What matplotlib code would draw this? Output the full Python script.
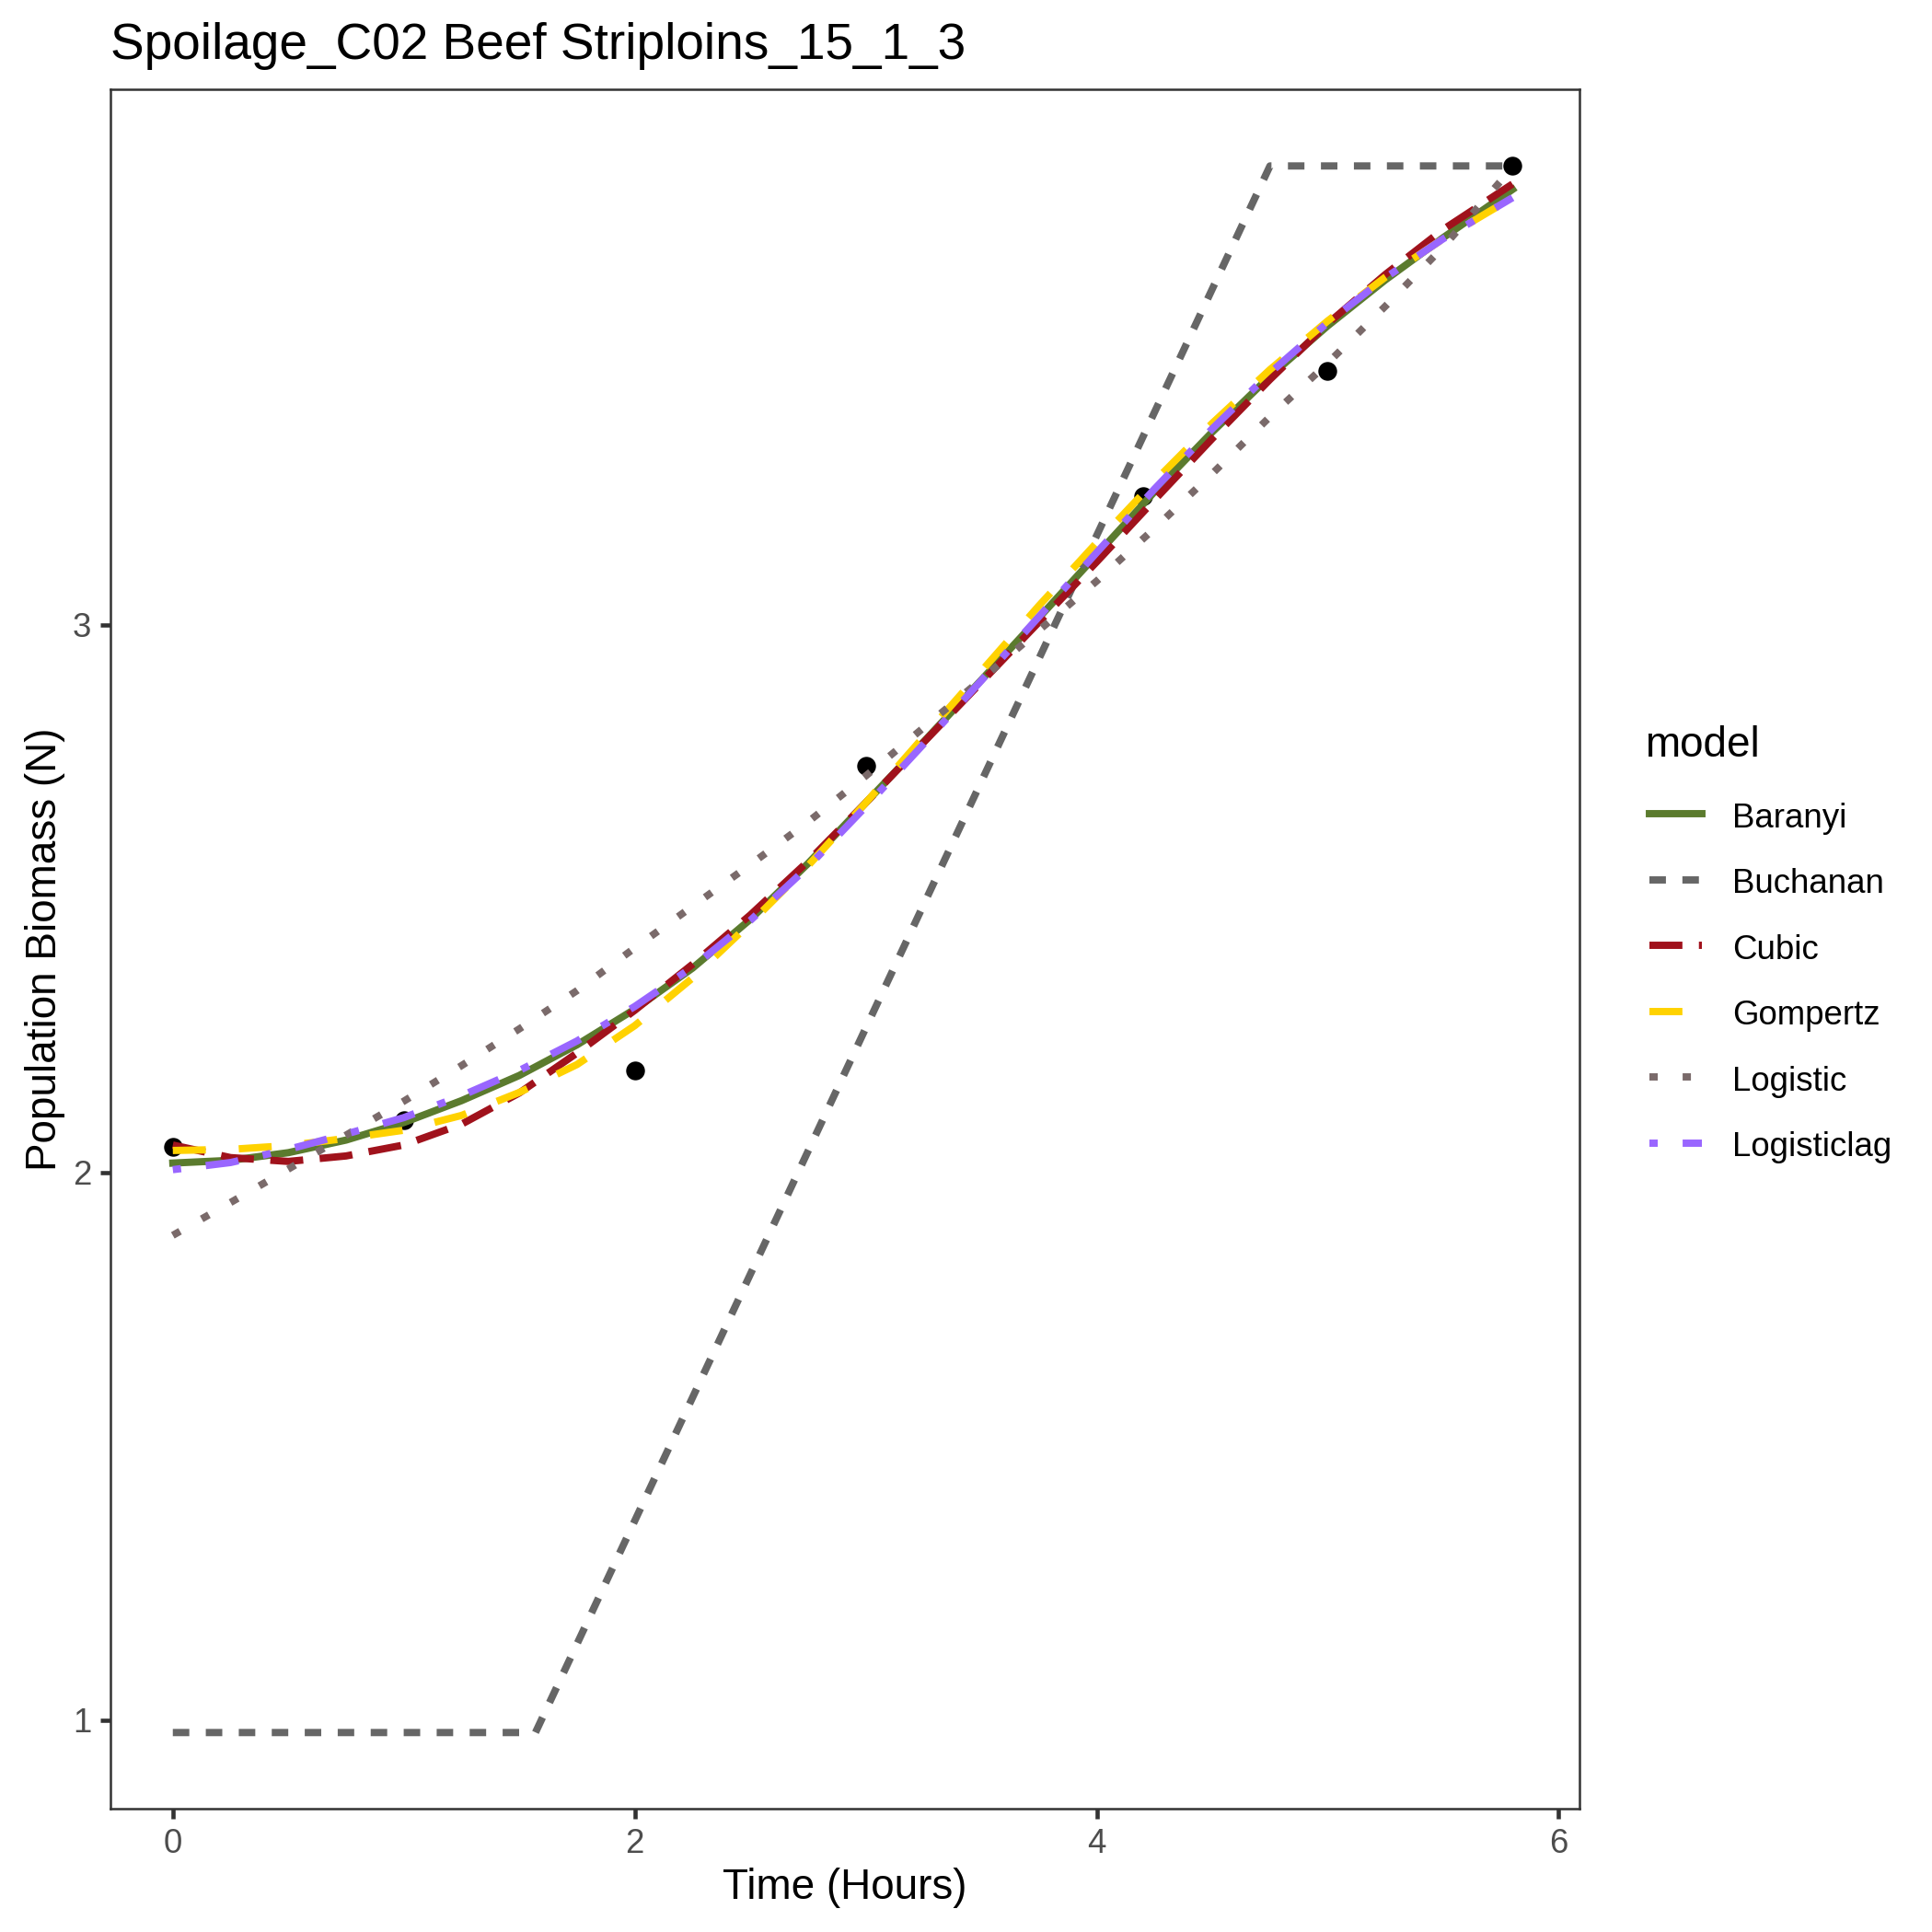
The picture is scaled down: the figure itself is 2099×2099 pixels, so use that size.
import matplotlib
matplotlib.use("Agg")
import matplotlib.pyplot as plt

# observed points
obs_time = [0, 1, 2, 3, 4.2, 5, 5.8]
obs_biomass = [2.046, 2.096, 2.186, 2.743, 3.235, 3.464, 3.838]

# fitted model curves
fit_time = [0, 0.25, 0.5, 0.75, 1.0, 1.25, 1.5, 1.75, 2.0, 2.25, 2.5, 2.75,
            3.0, 3.25, 3.5, 3.75, 4.0, 4.25, 4.5, 4.75, 5.0, 5.25, 5.5, 5.8]
baranyi = [2.017, 2.022, 2.036, 2.059, 2.091, 2.131, 2.177, 2.233, 2.298, 2.373, 2.462, 2.564,
           2.675, 2.786, 2.899, 3.013, 3.128, 3.243, 3.352, 3.454, 3.546, 3.630, 3.707, 3.795]
cubic = [2.050, 2.027, 2.020, 2.030, 2.050, 2.088, 2.145, 2.218, 2.296, 2.380, 2.470, 2.568,
         2.675, 2.785, 2.895, 3.005, 3.115, 3.228, 3.340, 3.448, 3.550, 3.640, 3.722, 3.805]
gompertz = [2.040, 2.042, 2.049, 2.062, 2.077, 2.104, 2.146, 2.197, 2.268, 2.355, 2.455, 2.560,
            2.675, 2.795, 2.915, 3.035, 3.150, 3.262, 3.368, 3.466, 3.555, 3.635, 3.705, 3.780]
logistic = [1.885, 1.945, 2.006, 2.068, 2.130, 2.195, 2.262, 2.332, 2.410, 2.486, 2.562, 2.640,
            2.724, 2.812, 2.900, 2.990, 3.080, 3.176, 3.276, 3.380, 3.478, 3.582, 3.690, 3.835]
logisticlag = [2.005, 2.018, 2.042, 2.070, 2.100, 2.140, 2.186, 2.240, 2.303, 2.375, 2.460, 2.558,
               2.668, 2.782, 2.898, 3.015, 3.132, 3.248, 3.358, 3.460, 3.552, 3.634, 3.705, 3.780]

# Buchanan is piecewise linear: lag, growth, stationary
buchanan_time = [0, 1.57, 4.75, 5.8]
buchanan = [0.977, 0.977, 3.838, 3.838]

models = ["Baranyi", "Buchanan", "Cubic", "Gompertz", "Logistic", "Logisticlag"]
colours = ["#5B7B2E", "#666666", "#A0121C", "#FFD200", "#7A6A6A", "#9966FF"]
# dash patterns in points (lw ~ 1.9pt)
dashes = [None, (4.3, 4.3), (8.6, 4.3), (8.6, 8.6), (2.16, 6.5), (2.16, 6.5, 8.6, 6.5)]

plt.rcParams['font.family'] = ['Liberation Sans', 'DejaVu Sans']
plt.rcParams['lines.scale_dashes'] = False

W = 2099
fig = plt.figure(figsize=(W / 300, W / 300), dpi=300)
ax = fig.add_axes([120 / W, 1 - 1965 / W, (1716 - 120) / W, (1965 - 97) / W])

ax.scatter(obs_time, obs_biomass, s=24, color="black", zorder=2, linewidths=0)

curves = [(fit_time, baranyi), (buchanan_time, buchanan), (fit_time, cubic),
          (fit_time, gompertz), (fit_time, logistic), (fit_time, logisticlag)]
handles = []
for (t, v), name, col, d in zip(curves, models, colours, dashes):
    line, = ax.plot(t, v, color=col, lw=1.9, label=name, zorder=3,
                    solid_joinstyle="round", dash_joinstyle="round")
    if d is not None:
        line.set_dashes(d)
    handles.append(line)

ax.set_xlim(-0.27, 6.09)
ax.set_ylim(0.838, 3.978)
ax.set_xticks([0, 2, 4, 6])
ax.set_yticks([1, 2, 3])
ax.tick_params(colors="#333333", labelcolor="#4D4D4D", labelsize=8.8,
               length=2.75, width=1.1, pad=2.2)
for sp in ax.spines.values():
    sp.set_color("#333333")
    sp.set_linewidth(0.6)

ax.set_xlabel("Time (Hours)", fontsize=11, labelpad=2)
ax.set_ylabel("Population Biomass (N)", fontsize=11, labelpad=2)
ax.set_title("Spoilage_C02 Beef Striploins_15_1_3", fontsize=13.2, loc="left", pad=8)

# legend: title placed on its own so the gap above the keys can match
fig.text(1787 / W, 1 - 822 / W, "model", fontsize=11, ha="left", va="baseline")
leg = fig.legend(handles=handles, labels=models,
                 loc="upper left", bbox_to_anchor=(1792 / W, 1 - 870 / W),
                 frameon=False, fontsize=8.8,
                 handlelength=1.55, handleheight=1.0, handletextpad=0.9,
                 labelspacing=0.94, borderpad=0, borderaxespad=0)

fig.savefig("out.png", dpi=300)
